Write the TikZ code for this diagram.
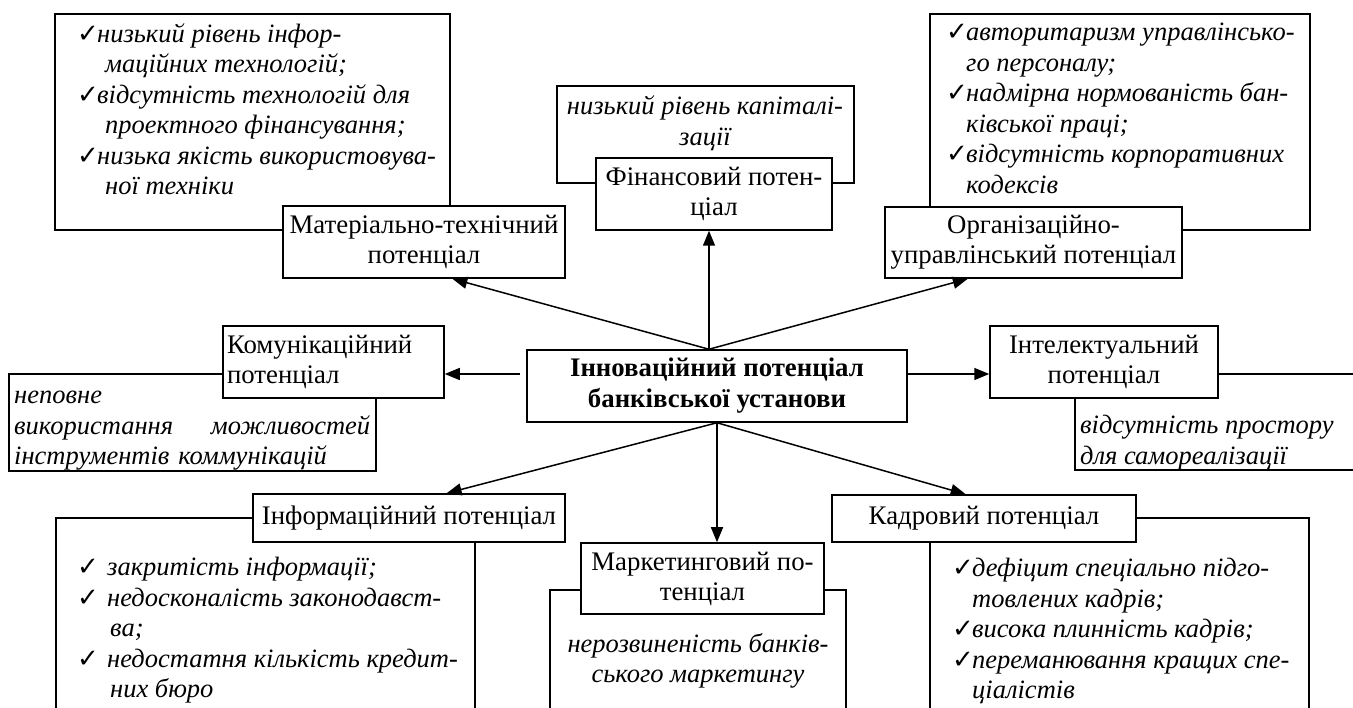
\documentclass[tikz,border=0pt]{standalone}
\usepackage{fontspec}
\setmainfont{Liberation Serif}
\newfontfamily\symfont{DejaVu Sans}
\usetikzlibrary{calc,arrows.meta}

\newcommand\chk[1][20pt]{\makebox[#1][l]{\raisebox{0pt}[0pt][0pt]{\symfont\upshape\fontsize{26}{30}\selectfont ✓}}}
\newcommand\cont[1][20pt]{\hspace*{#1}}

\begin{document}
\begin{tikzpicture}[x=1pt,y=-1pt,
  every node/.style={font=\fontsize{26.8}{30}\selectfont},
  pot/.style={draw,line width=1.5pt,fill=white,align=center,inner sep=0pt},
  frame/.style={line width=1.5pt},
  txt/.style={anchor=north west,align=left,inner sep=0pt,font=\fontsize{26.5}{30.5}\selectfont\itshape},
  arr/.style={line width=1.5pt,-{Triangle[length=15pt,width=12pt]}}]
  \clip (0,0) rectangle (1353,708);

  % frames with the problems
  \draw[frame] (55,14) rectangle (450,230);
  \draw[frame] (557,86) rectangle (854,183);
  \draw[frame] (930,14) rectangle (1310,230);
  \draw[frame] (9,374) rectangle (376,471);
  \draw[frame] (1075,374) rectangle (1365,470);
  \draw[frame] (56,518) rectangle (475,720);
  \draw[frame] (550,590) rectangle (846,720);
  \draw[frame] (930,518) rectangle (1309,720);

  % potentials
  \node[pot,minimum width=380,minimum height=72,font=\fontsize{26.8}{31}\selectfont\bfseries] (ctr) at (717,386) {Інноваційний потенціал\\банківської установи};
  \node[pot,minimum width=282,minimum height=72] (Mat) at (424,242) {Матеріально-технічний\\потенціал};
  \node[pot,minimum width=236,minimum height=72] (Fin) at (714,194) {Фінансовий потен-\\ціал};
  \node[pot,minimum width=297,minimum height=71] (Org) at (1033.5,242.5) {Організаційно-\\управлінський потенціал};
  \node[pot,minimum width=221,minimum height=72,text width=213pt,align=left] (Kom) at (333.5,362) {Комунікаційний\\потенціал};
  \node[pot,minimum width=228,minimum height=72] (Int) at (1104,362) {Інтелектуальний\\потенціал};
  \node[pot,minimum width=312,minimum height=48] (Inf) at (409,518) {Інформаційний потенціал};
  \node[pot,minimum width=243,minimum height=71] (Mkt) at (702.5,578.5) {Маркетинговий по-\\тенціал};
  \node[pot,minimum width=304,minimum height=47] (Kadr) at (984,518.5) {Кадровий потенціал};

  % problems
  \node[txt] (matTxt) at (77,23) {\chk низький рівень інфор-\\\cont[28pt]маційних технологій;\\\chk відсутність технологій для\\\cont[28pt]проектного фінансування;\\\chk низька якість використовува-\\\cont[28pt]ної техніки};
  \node[txt,anchor=center,align=center] (finTxt) at (705,123) {низький рівень капіталі-\\зації};
  \node[txt] (orgTxt) at (946,23) {\chk авторитаризм управлінсько-\\\cont го персоналу;\\\chk надмірна нормованість бан-\\\cont ківської праці;\\\chk відсутність корпоративних\\\cont кодексів};
  \node[txt,text width=356pt] (komTxt) at (14,391) {неповне\\використання\hfill можливостей\\інструментів коммунікацій};
  \node[txt] (intTxt) at (1080,415) {відсутність простору\\для самореалізації};
  \node[txt] (infTxt) at (77,557) {\chk[30pt]закритість інформації;\\\chk[30pt]недосконалість законодавст-\\\cont[33pt]ва;\\\chk[30pt]недостатня кількість кредит-\\\cont[33pt]них бюро};
  \node[txt,anchor=center,align=center] (mktTxt) at (698,661) {нерозвиненість банків-\\ського маркетингу};
  \node[txt] (kadrTxt) at (952,558) {\chk дефіцит спеціально підго-\\\cont товлених кадрів;\\\chk висока плинність кадрів;\\\chk переманювання кращих спе-\\\cont ціалістів};

  % arrows
  \coordinate (hubT) at ($(ctr.north)+(-8,0)$);
  \coordinate (hubL) at (520,374);
  \draw[arr] (hubT) -- ($(Mat.south west)!0.6!(Mat.south east)$);
  \draw[arr] (hubT) -- (hubT |- Fin.south);
  \draw[arr] (hubT) -- ($(Org.south west)!0.28!(Org.south east)$);
  \draw[arr] (hubL) -- (hubL -| Kom.east);
  \draw[arr] (ctr.east |- hubL) -- (Int.west |- hubL);
  \draw[arr] (ctr.south) -- ($(Inf.north west)!0.62!(Inf.north east)$);
  \draw[arr] (ctr.south) -- (ctr.south |- Mkt.north);
  \draw[arr] (ctr.south) -- ($(Kadr.north west)!0.44!(Kadr.north east)$);
\end{tikzpicture}
\end{document}
